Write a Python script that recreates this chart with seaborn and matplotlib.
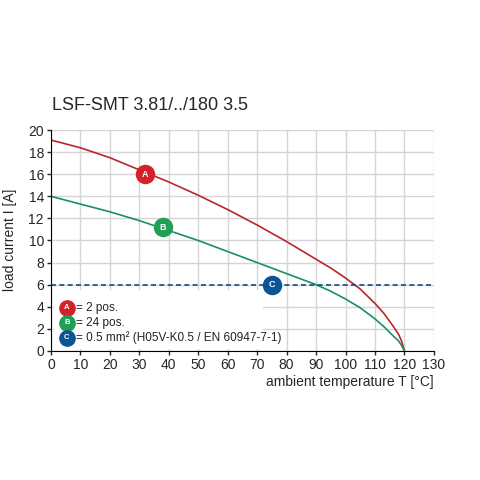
import matplotlib.pyplot as plt
import seaborn as sns
import pandas as pd

sns.set_style("white")
plt.rcParams['font.family'] = ['Liberation Sans', 'DejaVu Sans']

temp_a = [0, 10, 20, 30, 40, 50, 60, 70, 80, 90, 95, 100, 105, 110, 113, 116, 118, 119, 120]
curr_a = [19.1, 18.4, 17.5, 16.4, 15.3, 14.1, 12.8, 11.4, 9.9, 8.3, 7.5, 6.6, 5.6, 4.3, 3.4, 2.3, 1.5, 0.9, 0]
temp_b = [0, 10, 20, 30, 40, 50, 60, 70, 80, 90, 95, 100, 105, 110, 113, 116, 118, 119, 120]
curr_b = [14, 13.3, 12.6, 11.8, 10.9, 10.0, 9.0, 8.0, 7.0, 6.0, 5.4, 4.7, 3.9, 2.9, 2.2, 1.4, 0.9, 0.5, 0]
limit_c = 6
marks = [("A", 32, 16, "#d2232a"), ("B", 38, 11.2, "#1fa055"), ("C", 75, 6, "#0b5394")]
legend_lines = ["= 2 pos.", "= 24 pos.", "= 0.5 mm² (H05V-K0.5 / EN 60947-7-1)"]

fig = plt.figure(figsize=(4.8, 4.8), dpi=100)
ax = fig.add_axes([0.106, 0.269, 0.798, 0.46])
ax.set_xlim(0, 130)
ax.set_ylim(0, 20)
ax.set_xticks(range(0, 131, 10))
ax.set_yticks(range(0, 21, 2))
ax.grid(True, color="#d5d5d5", lw=1)
ax.set_axisbelow(True)
for s in ["top", "right"]:
    ax.spines[s].set_visible(False)
ax.spines["left"].set_color("black")
ax.spines["bottom"].set_color("black")
ax.tick_params(axis="both", direction="out", length=3, width=1, labelsize=10, pad=2, left=True, bottom=True)

sns.lineplot(x=temp_a, y=curr_a, color="#b8262e", lw=1.2, ax=ax)
sns.lineplot(x=temp_b, y=curr_b, color="#1a9060", lw=1.2, ax=ax)
ax.axhline(limit_c, color="#0b4f8a", lw=1.2, ls=(0, (3, 2)))

# legend box hides grid
ax.add_patch(plt.Rectangle((1, 0.2), 71, 5.3, facecolor="white", edgecolor="none", zorder=1.5))
for i, (lab, x, y, c) in enumerate(marks):
    ax.plot(x, y, "o", ms=13, color=c, zorder=5)
    ax.text(x, y, lab, color="white", fontsize=6.5, fontweight="bold", ha="center", va="center", zorder=6)
    ly = 3.9 - i * 1.35
    ax.plot(5.4, ly, "o", ms=11, color=c, zorder=5)
    ax.text(5.4, ly, lab, color="white", fontsize=5.5, fontweight="bold", ha="center", va="center", zorder=6)
    ax.text(8.6, ly, legend_lines[i], fontsize=8.5, va="center", color="#222222", zorder=6)

fig.text(0.108, 0.78, "LSF-SMT 3.81/../180 3.5", fontsize=13, va="center")
fig.text(0.904, 0.205, "ambient temperature T [°C]", fontsize=10, ha="right", va="center")
fig.text(0.02, 0.5, "load current I [A]", fontsize=10, rotation=90, ha="center", va="center")

fig.savefig("out.png", dpi=100)
